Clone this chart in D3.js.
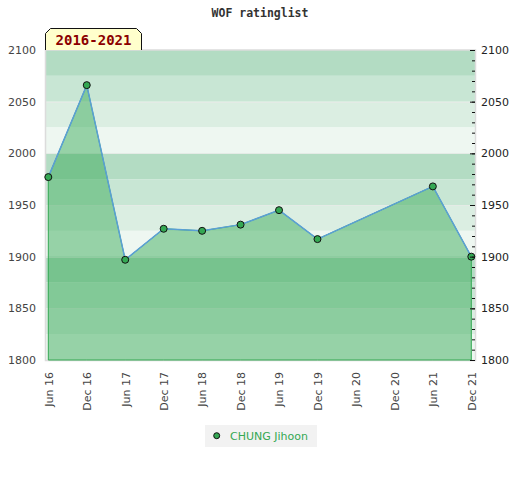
<!DOCTYPE html>
<html>
<head>
<meta charset="utf-8">
<script src="https://cdn.jsdelivr.net/npm/d3@7"></script>
<style>
  body { margin: 0; background: #fff; }
  text { font-family: "DejaVu Sans", sans-serif; }
</style>
</head>
<body>
<div id="chart"></div>
<script>
// tick labels along the bottom (half-year steps)
var periods = ['Jun 16', 'Dec 16', 'Jun 17', 'Dec 17', 'Jun 18', 'Dec 18',
    'Jun 19', 'Dec 19', 'Jun 20', 'Dec 20', 'Jun 21', 'Dec 21'];

// rating list entries for the player (no list in Jun 20 / Dec 20)
var ratingPeriods = ['Jun 16', 'Dec 16', 'Jun 17', 'Dec 17', 'Jun 18', 'Dec 18',
    'Jun 19', 'Dec 19', 'Jun 21', 'Dec 21'];
var ratingValues = [1977, 2066, 1897, 1927, 1925, 1931, 1945, 1917, 1968, 1900];

var yTicks = [1800, 1850, 1900, 1950, 2000, 2050, 2100];
var playerName = 'CHUNG Jihoon';
var chartTitle = 'WOF ratinglist';
var rangeLabel = '2016-2021';

var width = 520;
var height = 480;

var plotLeft = 45;
var plotRight = 475;
var plotTop = 50;
var plotBottom = 360;

var seriesColor = '#34a853';
var lineColor = '#5b9fd6';
var bandColors = ['#b3dcc3', '#c8e6d4', '#dbeee2', '#eef7f1'];

var svg = d3.select('#chart').append('svg')
    .attr('width', width)
    .attr('height', height);

var x = d3.scalePoint()
    .domain(periods)
    .range([48.3, 471.3]);

var y = d3.scaleLinear()
    .domain([1800, 2100])
    .range([plotBottom, plotTop]);

// Background bands, 25 points each, from the top down
var bandEdges = d3.range(2100, 1800, -25);
svg.append('g').selectAll('rect')
    .data(bandEdges)
    .enter()
    .append('rect')
    .attr('x', plotLeft)
    .attr('width', plotRight - plotLeft)
    .attr('y', function (d) { return y(d); })
    .attr('height', function (d) { return y(d - 25) - y(d); })
    .attr('fill', function (d, i) { return bandColors[i % 4]; });

// faint grid at the labelled values
svg.append('g').selectAll('line')
    .data(yTicks.slice(1, -1))
    .enter()
    .append('line')
    .attr('x1', plotLeft)
    .attr('x2', plotRight)
    .attr('y1', function (d) { return Math.round(y(d)) + 0.5; })
    .attr('y2', function (d) { return Math.round(y(d)) + 0.5; })
    .attr('stroke', '#e4ebe6')
    .attr('stroke-width', 1);

// plot frame
svg.append('rect')
    .attr('x', plotLeft + 0.5)
    .attr('y', plotTop)
    .attr('width', plotRight - plotLeft)
    .attr('height', plotBottom - plotTop + 0.5)
    .attr('fill', 'none')
    .attr('stroke', '#dcdcdc')
    .attr('stroke-width', 1.5);

var points = ratingPeriods.map(function (p, i) {
    return { period: p, value: ratingValues[i] };
});

var area = d3.area()
    .x(function (d) { return x(d.period); })
    .y0(y(1800))
    .y1(function (d) { return y(d.value); });

svg.append('path')
    .datum(points)
    .attr('d', area)
    .attr('fill', seriesColor)
    .attr('fill-opacity', 0.47)
    .attr('stroke', seriesColor)
    .attr('stroke-width', 1);

var line = d3.line()
    .x(function (d) { return x(d.period); })
    .y(function (d) { return y(d.value); });

svg.append('path')
    .datum(points)
    .attr('d', line)
    .attr('fill', 'none')
    .attr('stroke', lineColor)
    .attr('stroke-width', 1.5);

svg.append('g').selectAll('circle')
    .data(points)
    .enter()
    .append('circle')
    .attr('cx', function (d) { return x(d.period); })
    .attr('cy', function (d) { return y(d.value); })
    .attr('r', 3.5)
    .attr('fill', seriesColor)
    .attr('stroke', '#111')
    .attr('stroke-width', 1);

// Left axis (labels only)
var leftAxis = svg.append('g')
    .attr('transform', 'translate(' + (plotLeft - 9) + ',0)')
    .call(d3.axisLeft(y).tickValues(yTicks).tickSize(0).tickFormat(d3.format('d')));
leftAxis.select('.domain').remove();
leftAxis.selectAll('text')
    .attr('x', 0)
    .attr('fill', '#444')
    .style('font-size', '11px')
    .style('font-family', '"DejaVu Sans", sans-serif');

// Right axis: minor ticks every 10, longer at labelled values
var rightMinor = svg.append('g')
    .attr('transform', 'translate(' + plotRight + ',0)')
    .call(d3.axisLeft(y).tickValues(d3.range(1800, 2101, 10)).tickSize(3).tickFormat(''));
rightMinor.select('.domain').remove();
rightMinor.selectAll('line').attr('stroke', '#111');

var rightMajor = svg.append('g')
    .attr('transform', 'translate(' + plotRight + ',0)')
    .call(d3.axisLeft(y).tickValues(yTicks).tickSize(5).tickFormat(d3.format('d')));
rightMajor.select('.domain').remove();
rightMajor.selectAll('line').attr('stroke', '#111');
rightMajor.selectAll('text')
    .attr('x', 6)
    .attr('text-anchor', 'start')
    .attr('fill', '#222')
    .style('font-size', '11px')
    .style('font-family', '"DejaVu Sans", sans-serif');

// Bottom axis with rotated labels
var bottomAxis = svg.append('g')
    .attr('transform', 'translate(0,' + plotBottom + ')')
    .call(d3.axisBottom(x).tickSize(0));
bottomAxis.select('.domain').remove();
bottomAxis.selectAll('text')
    .attr('transform', 'rotate(-90)')
    .attr('x', -12)
    .attr('y', 0)
    .attr('dy', '0.35em')
    .attr('text-anchor', 'end')
    .attr('fill', '#444')
    .style('font-size', '11px')
    .style('font-family', '"DejaVu Sans", sans-serif');

// Title
svg.append('text')
    .attr('x', 260)
    .attr('y', 17)
    .attr('text-anchor', 'middle')
    .attr('fill', '#333')
    .style('font-family', '"DejaVu Sans Mono", monospace')
    .style('font-weight', 'bold')
    .style('font-size', '11.5px')
    .text(chartTitle);

// Period tag with cut corners
var tagL = 45.5, tagR = 141.5, tagT = 28.5, tagB = 50, cut = 5;
svg.append('path')
    .attr('d', 'M' + tagL + ',' + tagB + 'L' + tagL + ',' + (tagT + cut) +
        'L' + (tagL + cut) + ',' + tagT + 'L' + (tagR - cut) + ',' + tagT +
        'L' + tagR + ',' + (tagT + cut) + 'L' + tagR + ',' + tagB)
    .attr('fill', '#ffffcc')
    .attr('stroke', '#111')
    .attr('stroke-width', 1);

svg.append('text')
    .attr('x', (tagL + tagR) / 2)
    .attr('y', 45)
    .attr('text-anchor', 'middle')
    .attr('fill', '#8b0000')
    .style('font-family', '"DejaVu Sans Mono", monospace')
    .style('font-weight', 'bold')
    .style('font-size', '14px')
    .text(rangeLabel);

// Legend
var legend = svg.append('g');
legend.append('rect')
    .attr('x', 205)
    .attr('y', 425)
    .attr('width', 112)
    .attr('height', 22)
    .attr('fill', '#f2f2f2');
legend.append('circle')
    .attr('cx', 216.7)
    .attr('cy', 435.7)
    .attr('r', 3)
    .attr('fill', seriesColor)
    .attr('stroke', '#111')
    .attr('stroke-width', 1);
legend.append('text')
    .attr('x', 230)
    .attr('y', 439.7)
    .attr('fill', seriesColor)
    .style('font-size', '11px')
    .text(playerName);
</script>
</body>
</html>
